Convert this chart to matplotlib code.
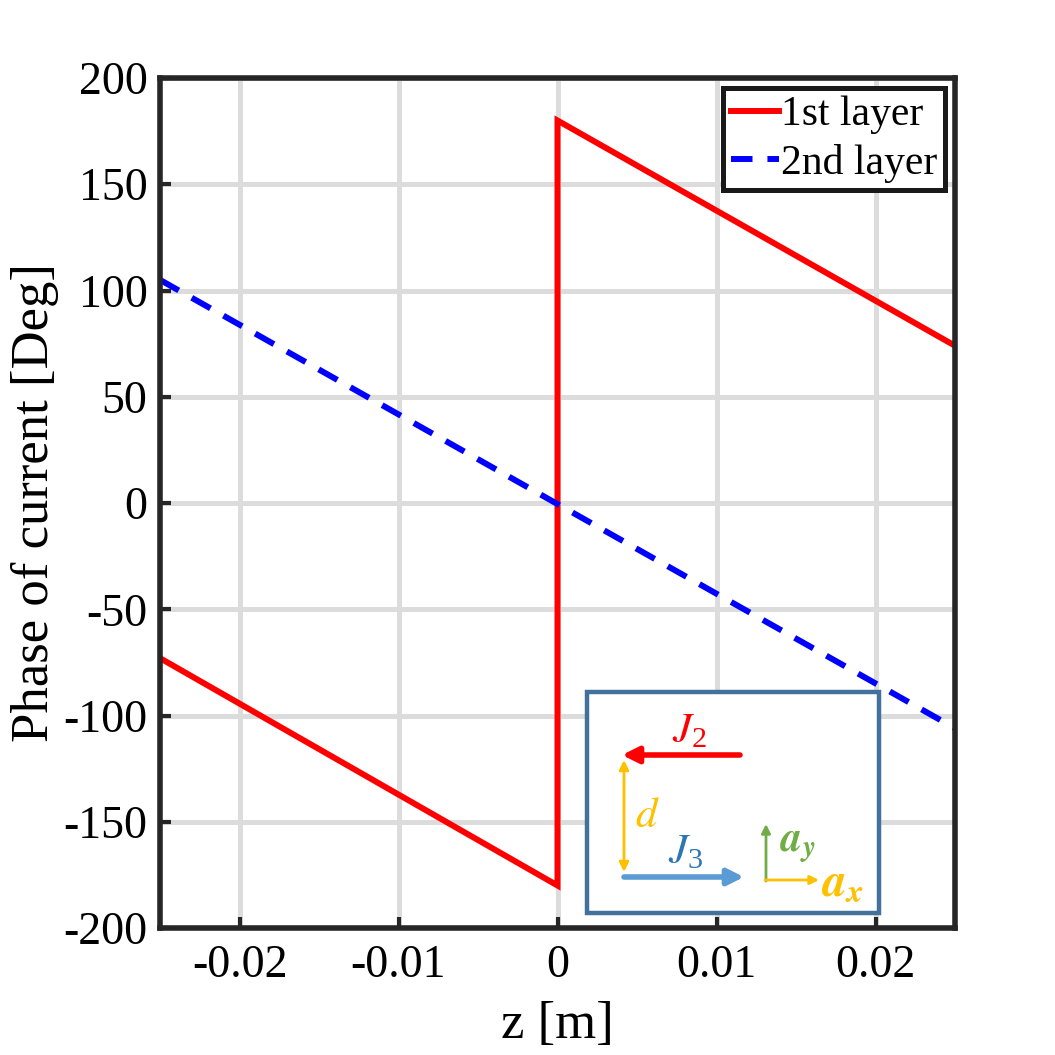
import matplotlib
matplotlib.use("Agg")
import matplotlib.pyplot as plt
from matplotlib.patches import Rectangle, FancyArrowPatch

plt.rcParams['font.family'] = ['Liberation Serif', 'DejaVu Serif']
plt.rcParams['mathtext.fontset'] = 'stix'
plt.rcParams['axes.unicode_minus'] = False

# Data
z1_left = [-0.025, 0.0]
phase1_left = [-73, -180]
z1_right = [0.0, 0.025]
phase1_right = [180, 74]
z2 = [-0.025, 0.025]
phase2 = [105, -106]
xticks = [-0.02, -0.01, 0, 0.01, 0.02]
xticklabels = ['-0.02', '-0.01', '0', '0.01', '0.02']
yticks = [-200, -150, -100, -50, 0, 50, 100, 150, 200]
yticklabels = ['-200', '-150', '-100', '-50', '0', '50', '100', '150', '200']

W = 1055
fig = plt.figure(figsize=(10.55, 10.55), dpi=100)
ax = fig.add_axes([160/W, 1-928/W, (955-160)/W, (928-78)/W])

z1 = z1_left + z1_right
p1 = phase1_left + phase1_right
ax.plot(z1, p1, color='#ff0000', lw=4.3, label='1st layer', solid_joinstyle='miter')
ax.plot(z2, phase2, color='#0000ff', lw=4.3, ls=(0, (3.6, 2.5)), label='2nd layer')

ax.set_xlim(-0.025, 0.025)
ax.set_ylim(-200, 200)
ax.set_xticks(xticks)
ax.set_xticklabels(xticklabels)
ax.set_yticks(yticks)
ax.set_yticklabels(yticklabels)
ax.grid(True, color='#dcdcdc', lw=3.6)
ax.set_axisbelow(True)
ax.tick_params(direction='in', length=8, width=3, labelsize=33, color='#262626')
ax.tick_params(axis='y', pad=9)
ax.tick_params(axis='x', pad=12)
for s in ax.spines.values():
    s.set_linewidth(4)
    s.set_color('#262626')
ax.set_xlabel('z [m]', fontsize=38)
ax.set_ylabel('Phase of current [Deg]', fontsize=38)
ax.xaxis.set_label_coords(0.5, -0.114)
ax.yaxis.set_label_coords(-0.157, 0.5)
ax.xaxis.label.set_va('center')
ax.yaxis.label.set_va('center')

leg = ax.legend(loc='upper right', fontsize=30, frameon=True, fancybox=False,
                borderpad=0.18, handlelength=1.15, handletextpad=0.05,
                labelspacing=0.22, borderaxespad=0.25, framealpha=1)
leg.get_frame().set_edgecolor('#1a1a1a')
leg.get_frame().set_linewidth(3.6)

def F(px, py):
    return (px / W, 1 - py / W)

# Inset diagram
x0, y0 = F(587, 913)
x1, y1 = F(879, 692)
fig.patches.append(Rectangle((x0, y0), x1 - x0, y1 - y0, transform=fig.transFigure,
                             fill=True, facecolor='white', edgecolor='#41719c', lw=3.2, zorder=5))

def arrow(p0, p1, color, style='-|>', lw=3.5, ms=18):
    a = FancyArrowPatch(F(*p0), F(*p1), transform=fig.transFigure, arrowstyle=style,
                        mutation_scale=ms, color=color, lw=lw, zorder=6,
                        shrinkA=0, shrinkB=0)
    fig.patches.append(a)

arrow((740, 755), (622, 755), '#ff0000', lw=4, ms=24)
arrow((624, 760), (624, 872), '#ffc000', style='<|-|>', lw=2, ms=14)
arrow((624, 877), (744, 877), '#5b9bd5', lw=4, ms=24)
arrow((766, 881), (766, 824), '#70ad47', lw=2, ms=13)
arrow((765, 880), (819, 880), '#ffc000', lw=2, ms=13)

fig.text(*F(689, 732), r'$J_{\mathregular{2}}$', color='#ff0000', fontsize=31, ha='center', va='center', zorder=7)
fig.text(*F(647, 817), r'$d$', color='#ffc000', fontsize=31, ha='center', va='center', zorder=7)
fig.text(*F(686, 853), r'$J_{\mathregular{3}}$', color='#2e75b6', fontsize=31, ha='center', va='center', zorder=7)
fig.text(*F(798, 846), r'$\boldsymbol{a}_{\boldsymbol{y}}$', color='#70ad47', fontsize=30, ha='center', va='center', zorder=7)
fig.text(*F(842, 884), r'$\boldsymbol{a}_{\boldsymbol{x}}$', color='#ffc000', fontsize=34, ha='center', va='center', zorder=7)

fig.savefig('out.png', dpi=100)
